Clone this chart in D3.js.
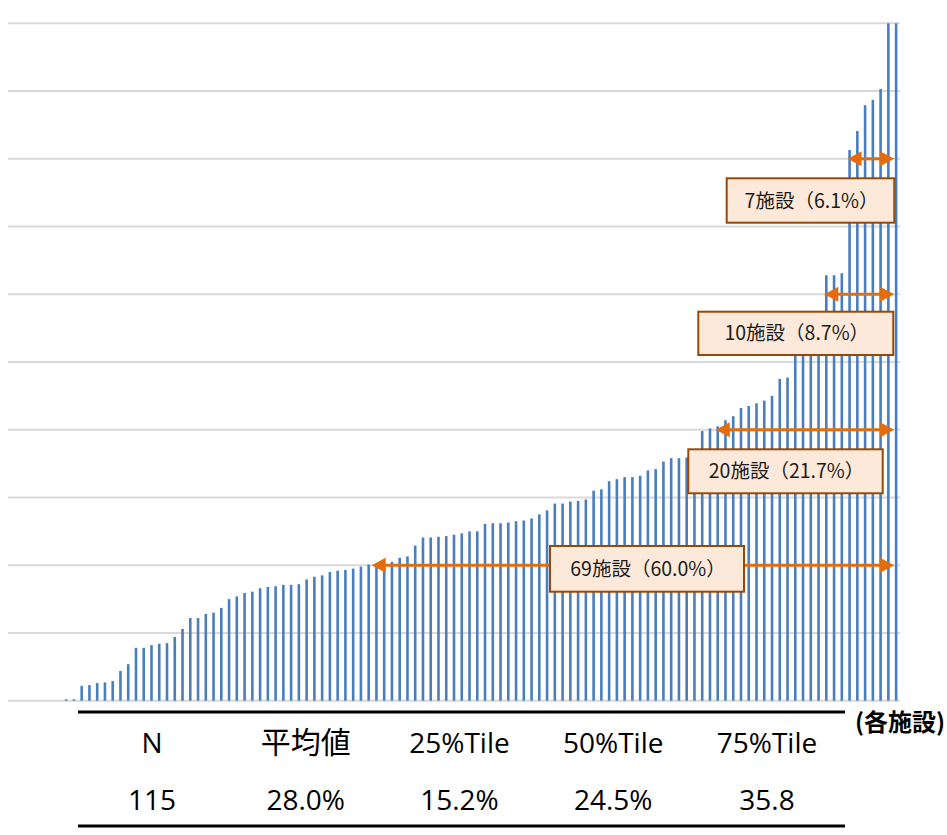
<!DOCTYPE html>
<html>
<head>
<meta charset="utf-8">
<script src="https://cdn.jsdelivr.net/npm/d3@7"></script>
<style>
  body { margin: 0; background: #fff; }
  svg { display: block; }
</style>
</head>
<body>
<svg width="947" height="835"></svg>
<script>
// ratio per facility (%), sorted ascending, 115 facilities
var values = [
  0, 0, 0, 0, 0, 0, 0, 0.2, 0.2, 2.2,
  2.3, 2.6, 2.7, 2.9, 4.4, 5.4, 7.8, 7.8, 8.2, 8.4,
  8.5, 9.4, 10.6, 12.2, 12.2, 12.8, 13.0, 13.7, 15.0, 15.4,
  15.9, 16.1, 16.6, 16.8, 16.9, 17.1, 17.1, 17.2, 17.9, 18.3,
  18.5, 19.0, 19.2, 19.3, 19.5, 19.8, 20.1, 20.2, 20.3, 20.5,
  21.1, 21.3, 22.9, 24.1, 24.1, 24.2, 24.3, 24.5, 24.7, 25.0,
  25.0, 26.1, 26.2, 26.2, 26.3, 26.5, 26.6, 26.9, 27.5, 28.1,
  29.1, 29.1, 29.4, 29.5, 29.7, 31.0, 31.2, 32.4, 32.7, 33.0,
  33.0, 33.2, 34.0, 34.2, 35.3, 35.8, 35.8, 35.9, 36.8, 39.8,
  40.2, 40.5, 41.4, 42.0, 43.2, 43.5, 43.9, 44.3, 45.0, 47.5,
  47.7, 52.0, 53.5, 55.0, 57.0, 62.8, 62.8, 63.1, 81.3, 84.1,
  87.9, 88.7, 90.3, 100, 100
];
var gridTicks = [0, 10, 20, 30, 40, 50, 60, 70, 80, 90, 100];

// threshold annotations: level (%), first bar index above it, label
var annLevels = [80, 60, 40, 20];
var annFrom = [108, 105, 91, 46];
var annLabels = ['7施設（6.1%）', '10施設（8.7%）', '20施設（21.7%）', '69施設（60.0%）'];

// summary table
var statHeaders = ['N', '平均値', '25%Tile', '50%Tile', '75%Tile'];
var statValues = ['115', '28.0%', '15.2%', '24.5%', '35.8'];

var svg = d3.select('svg');

var plotLeft = 8, plotRight = 900, plotTop = 23.3, plotBottom = 700.7;

var xScale = d3.scaleBand()
  .domain(d3.range(values.length))
  .range([plotLeft, plotRight])
  .paddingInner(0.665)
  .paddingOuter(0.3325);

var yScale = d3.scaleLinear()
  .domain([0, 100])
  .range([plotBottom, plotTop]);

// gridlines
svg.append('g')
  .attr('class', 'grid')
  .selectAll('line')
  .data(gridTicks)
  .enter()
  .append('line')
  .attr('x1', plotLeft)
  .attr('x2', plotRight)
  .attr('y1', function(d) { return yScale(d); })
  .attr('y2', function(d) { return yScale(d); })
  .style('stroke', '#d9d9d9')
  .style('stroke-width', 2);

// bars
svg.append('g')
  .attr('class', 'bars')
  .selectAll('rect')
  .data(values)
  .enter()
  .append('rect')
  .attr('x', function(d, i) { return xScale(i); })
  .attr('width', xScale.bandwidth())
  .attr('y', function(d) { return yScale(d); })
  .attr('height', function(d) { return plotBottom - yScale(d); })
  .attr('fill', '#4a7ebf');

// annotation boxes (layout only)
var boxes = [
  {x: 726.7, y: 178.3, w: 167.6, h: 44.4},
  {x: 698.3, y: 311.7, w: 195, h: 43.3},
  {x: 688.3, y: 449.3, w: 194.4, h: 44},
  {x: 550, y: 546, w: 194, h: 45.7}
];

var orange = '#e46c0a';
var head = 14, half = 7.5;
var lastX = xScale(values.length - 1) + xScale.bandwidth() / 2 - 2;

var ann = svg.append('g').attr('class', 'annotations');

annLevels.forEach(function(level, k) {
  var y = yScale(level);
  var x0 = xScale(annFrom[k]) + xScale.bandwidth() / 2 - (k == 3 ? -3 : 2);
  var x1 = lastX;
  ann.append('line')
    .attr('x1', x0 + head - 2)
    .attr('x2', x1 - head + 2)
    .attr('y1', y)
    .attr('y2', y)
    .style('stroke', orange)
    .style('stroke-width', 3);
  ann.append('path')
    .attr('d', 'M' + x0 + ',' + y + 'L' + (x0 + head) + ',' + (y - half) + 'L' + (x0 + head) + ',' + (y + half) + 'Z')
    .attr('fill', orange);
  ann.append('path')
    .attr('d', 'M' + x1 + ',' + y + 'L' + (x1 - head) + ',' + (y - half) + 'L' + (x1 - head) + ',' + (y + half) + 'Z')
    .attr('fill', orange);

  var b = boxes[k];
  ann.append('rect')
    .attr('x', b.x)
    .attr('y', b.y)
    .attr('width', b.w)
    .attr('height', b.h)
    .attr('fill', '#fde9d9')
    .style('stroke', '#984807')
    .style('stroke-width', 2);
  ann.append('text')
    .attr('x', b.x + b.w / 2 + 1)
    .attr('y', b.y + b.h / 2)
    .attr('dy', '0.36em')
    .attr('text-anchor', 'middle')
    .style('font-family', '"Noto Sans CJK JP", "Noto Sans", sans-serif')
    .style('font-size', '19.5px')
    .style('fill', '#1a1a1a')
    .text(annLabels[k]);
});

// unit label
svg.append('text')
  .attr('x', 855)
  .attr('y', 731)
  .style('font-family', '"Noto Sans CJK JP", sans-serif')
  .style('font-weight', 'bold')
  .style('font-size', '24px')
  .style('fill', '#000')
  .text('(各施設)');

// summary table
var colX = d3.scalePoint()
  .domain(d3.range(statHeaders.length))
  .range([152, 767]);

var table = svg.append('g').attr('class', 'table');

table.selectAll('.rule')
  .data([712, 826])
  .enter()
  .append('line')
  .attr('class', 'rule')
  .attr('x1', 78)
  .attr('x2', 845)
  .attr('y1', function(d) { return d; })
  .attr('y2', function(d) { return d; })
  .style('stroke', '#000')
  .style('stroke-width', 3);

table.selectAll('.head')
  .data(statHeaders)
  .enter()
  .append('text')
  .attr('class', 'head')
  .attr('x', function(d, i) { return colX(i); })
  .attr('y', 753)
  .attr('text-anchor', 'middle')
  .style('font-family', '"Open Sans", "Noto Sans CJK JP", sans-serif')
  .style('font-size', function(d, i) { return i == 1 ? '30px' : '28px'; })
  .style('fill', '#000')
  .text(function(d) { return d; });

table.selectAll('.val')
  .data(statValues)
  .enter()
  .append('text')
  .attr('class', 'val')
  .attr('x', function(d, i) { return colX(i); })
  .attr('y', 810)
  .attr('text-anchor', 'middle')
  .style('font-family', '"Open Sans", sans-serif')
  .style('font-size', '28px')
  .style('fill', '#000')
  .text(function(d) { return d; });
</script>
</body>
</html>
